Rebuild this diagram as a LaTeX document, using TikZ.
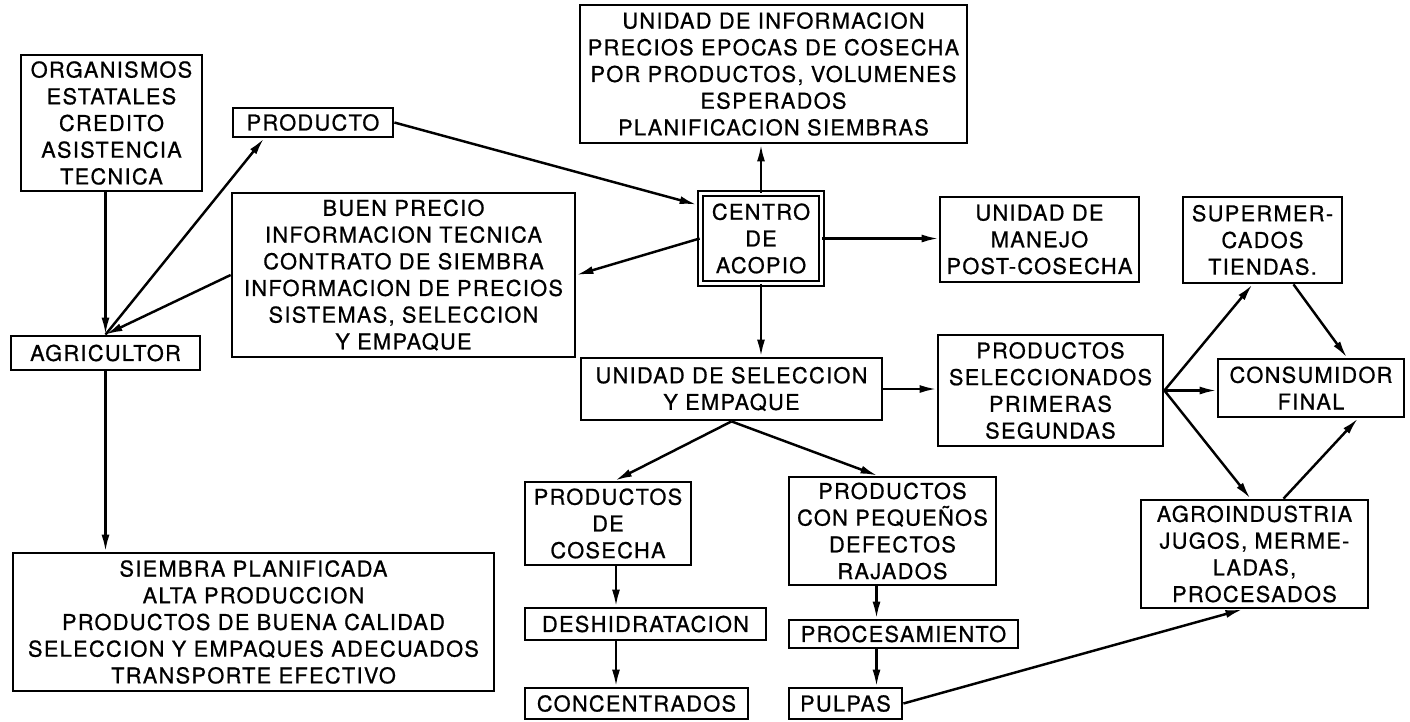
\documentclass[tikz,border=0pt]{standalone}
\usepackage{fontspec}
\setmainfont{TeX Gyre Heros}[LetterSpace=6,FakeBold=0.8]
\usetikzlibrary{arrows.meta,calc}

\begin{document}
\begin{tikzpicture}[x=0.02cm,y=-0.02cm,
  box/.style={draw,line width=1.6pt,inner sep=0pt,align=center,
    font=\fontsize{12.4}{15.2}\selectfont},
  arr/.style={line width=1.4pt,-{Latex[length=3.4mm,width=1.6mm]}}]
  \useasboundingbox (0,0) rectangle (1410,721);

  % Producer side
  \node[box,minimum width=3.62cm,minimum height=2.72cm] (org) at (111.5,123)
    {ORGANISMOS\\ESTATALES\\CREDITO\\ASISTENCIA\\TECNICA};
  \node[box,minimum width=3.2cm,minimum height=0.58cm] (prod) at (313,122.5) {PRODUCTO};
  \node[box,minimum width=6.86cm,minimum height=3.28cm] (buen) at (403.5,275)
    {BUEN PRECIO\\INFORMACION TECNICA\\CONTRATO DE SIEMBRA\\INFORMACION DE PRECIOS\\SISTEMAS, SELECCION\\Y EMPAQUE};
  \node[box,minimum width=3.78cm,minimum height=0.68cm] (agri) at (105.5,353) {AGRICULTOR};
  \node[box,minimum width=9.62cm,minimum height=2.76cm] (siembra) at (253.5,622)
    {SIEMBRA PLANIFICADA\\ALTA PRODUCCION\\PRODUCTOS DE BUENA CALIDAD\\SELECCION Y EMPAQUES ADECUADOS\\TRANSPORTE EFECTIVO};

  % Collection centre and its units
  \node[box,minimum width=7.74cm,minimum height=2.76cm] (info) at (773.5,74)
    {UNIDAD DE INFORMACION\\PRECIOS EPOCAS DE COSECHA\\POR PRODUCTOS, VOLUMENES\\ESPERADOS\\PLANIFICACION SIEMBRAS};
  \node[box,line width=1pt,double,double distance=2pt,minimum width=2.42cm,minimum height=1.8cm]
    (centro) at (761,238.5) {CENTRO\\DE\\ACOPIO};
  \node[box,minimum width=3.98cm,minimum height=1.7cm] (manejo) at (1039.5,239.5)
    {UNIDAD DE\\MANEJO\\POST-COSECHA};
  \node[box,minimum width=6.02cm,minimum height=1.24cm] (sel) at (731.5,389)
    {UNIDAD DE SELECCION\\Y EMPAQUE};

  % Products and markets
  \node[box,minimum width=4.5cm,minimum height=2.22cm] (prodsel) at (1050.5,390.5)
    {PRODUCTOS\\SELECCIONADOS\\PRIMERAS\\SEGUNDAS};
  \node[box,minimum width=3.18cm,minimum height=1.72cm] (super) at (1262.5,240)
    {SUPERMER-\\CADOS\\TIENDAS.};
  \node[box,minimum width=3.72cm,minimum height=1.16cm] (consum) at (1311,388)
    {CONSUMIDOR\\FINAL};
  \node[box,minimum width=4.54cm,minimum height=2.16cm] (agro) at (1254.5,554)
    {AGROINDUSTRIA\\JUGOS, MERME-\\LADAS,\\PROCESADOS};

  % Lower branches
  \node[box,minimum width=3.32cm,minimum height=1.66cm] (cosecha) at (608,523.5)
    {PRODUCTOS\\DE\\COSECHA};
  \node[box,minimum width=4.82cm,minimum height=0.64cm] (deshid) at (645.5,624) {DESHIDRATACION};
  \node[box,minimum width=4.46cm,minimum height=0.62cm] (concent) at (636.5,703.5) {CONCENTRADOS};
  \node[box,minimum width=4.14cm,minimum height=2.16cm] (pequenos) at (892.5,531)
    {PRODUCTOS\\CON PEQUEÑOS\\DEFECTOS\\RAJADOS};
  \node[box,minimum width=4.58cm,minimum height=0.56cm] (procesam) at (903.5,634) {PROCESAMIENTO};
  \node[box,minimum width=2.26cm,minimum height=0.62cm] (pulpas) at (845.5,703.5) {PULPAS};

  % Arrows
  \draw[arr] (org.south -| agri.north) -- (agri.north);
  \draw[arr] (agri.north) -- ($(prod.south)+(-49,0)$);
  \draw[arr] (buen.west) -- (agri.north);
  \draw[arr] (agri.south) -- (agri.south |- siembra.north);
  \draw[arr] (prod.east) -- ($(centro.north west)+(-3,12)$);
  \draw[arr] (centro.west) -- (buen.east);
  \draw[arr] (centro.north) -- (centro.north |- info.south);
  \draw[arr] (centro.east) -- (centro.east -| manejo.west);
  \draw[arr] (centro.south) -- (centro.south |- sel.north);
  \draw[arr] (sel.east) -- (sel.east -| prodsel.west);
  \draw[arr] (sel.south) -- ($(cosecha.north)+(7,0)$);
  \draw[arr] (sel.south) -- ($(pequenos.north)+(-15,0)$);
  \draw[arr] ($(cosecha.south)+(8,0)$) -- ($(cosecha.south |- deshid.north)+(8,0)$);
  \draw[arr] ($(cosecha.south |- deshid.south)+(8,0)$) -- ($(cosecha.south |- concent.north)+(8,0)$);
  \draw[arr] ($(pequenos.south)+(-16,0)$) -- ($(pequenos.south |- procesam.north)+(-16,0)$);
  \draw[arr] ($(pequenos.south |- procesam.south)+(-16,0)$) -- ($(pequenos.south |- pulpas.north)+(-16,0)$);
  \draw[arr] (pulpas.east) -- ($(agro.south)+(-12,0)$);
  \draw[arr] (prodsel.east) -- ($(super.south)+(-10,0)$);
  \draw[arr] (prodsel.east) -- (prodsel.east -| consum.west);
  \draw[arr] (prodsel.east) -- ($(agro.north)+(-4,0)$);
  \draw[arr] ($(super.south)+(31,0)$) -- ($(consum.north)+(36,0)$);
  \draw[arr] ($(agro.north)+(29,0)$) -- ($(consum.south)+(47,0)$);

\end{tikzpicture}
\end{document}
